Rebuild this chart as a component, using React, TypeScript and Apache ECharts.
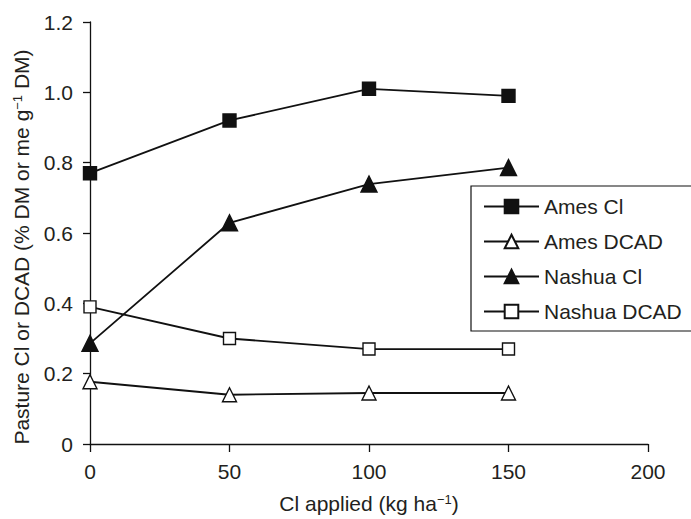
import React, { useEffect, useRef } from "react";
import * as echarts from "echarts";

const clApplied = [0, 50, 100, 150];
const amesCl = [0.77, 0.92, 1.01, 0.99];
const amesDcad = [0.177, 0.14, 0.145, 0.145];
const nashuaCl = [0.286, 0.629, 0.739, 0.786];
const nashuaDcad = [0.39, 0.30, 0.27, 0.27];
const seriesNames = ["Ames Cl", "Ames DCAD", "Nashua Cl", "Nashua DCAD"];
const yTicks = { min: 0, max: 1.2, interval: 0.2 };
const xTicks = { min: 0, max: 200, interval: 50 };
const xTitle = "Cl applied (kg ha{sup|−1})";
const yTitle = "Pasture Cl or DCAD (% DM or me g{sup|−1} DM)";

const FONT = "'Liberation Sans', Arial, Helvetica, sans-serif";
const TXT = "#231f20";

function pairs(ys: number[]) {
  return ys.map((y, i) => [clApplied[i], y]);
}

export default function App() {
  const ref = useRef<HTMLDivElement>(null);
  useEffect(() => {
    document.body.style.margin = "0";
    const chart = echarts.init(ref.current!, null, { renderer: "svg" });
    const mk = (
      name: string,
      ys: number[],
      symbol: string,
      size: number,
      filled: boolean
    ) => ({
      name,
      type: "line",
      data: pairs(ys),
      symbol,
      symbolSize: size,
      showAllSymbol: true,
      lineStyle: { color: "#111", width: 1.8 },
      itemStyle: {
        color: filled ? "#111" : "#fff",
        borderColor: "#111",
        borderWidth: 1.4,
        opacity: 1,
      },
      emphasis: { disabled: true },
      z: 3,
    });
    const supRich = { sup: { fontSize: 13, verticalAlign: "top", color: TXT, fontFamily: FONT } };
    chart.setOption({
      animation: false,
      textStyle: { fontFamily: FONT },
      grid: { left: 90, right: 43, top: 22, bottom: 70, containLabel: false },
      legend: {
        orient: "vertical",
        left: 471,
        top: 186,
        padding: [10, 10, 9, 12],
        borderColor: "#111",
        borderWidth: 1.2,
        backgroundColor: "#fff",
        itemWidth: 55,
        itemHeight: 17,
        itemGap: 14,
        data: seriesNames,
        textStyle: { fontSize: 21, color: TXT, fontFamily: FONT },
      },
      graphic: [
        {
          type: "text",
          x: 21,
          y: 247,
          rotation: Math.PI / 2,
          silent: true,
          style: {
            text: yTitle,
            fontSize: 21,
            fontFamily: FONT,
            fill: TXT,
            align: "center",
            verticalAlign: "middle",
            rich: supRich,
          },
        },
      ],
      xAxis: {
        type: "value",
        min: xTicks.min,
        max: xTicks.max,
        interval: xTicks.interval,
        name: xTitle,
        nameLocation: "middle",
        nameGap: 49,
        nameTextStyle: {
          fontSize: 21,
          color: TXT,
          fontFamily: FONT,
          rich: supRich,
        },
        axisLine: { show: true, onZero: false, lineStyle: { color: "#111", width: 1.3 } },
        axisTick: { show: true, inside: false, length: 8, lineStyle: { color: "#111", width: 1.3 } },
        axisLabel: { fontSize: 21, color: TXT, margin: 17, fontFamily: FONT },
        splitLine: { show: false },
      },
      yAxis: {
        type: "value",
        min: yTicks.min,
        max: yTicks.max,
        interval: yTicks.interval,
        axisLine: { show: true, onZero: false, lineStyle: { color: "#111", width: 1.3 } },
        axisTick: { show: true, inside: false, length: 7, lineStyle: { color: "#111", width: 1.3 } },
        axisLabel: {
          fontSize: 21,
          color: TXT,
          margin: 17,
          fontFamily: FONT,
          formatter: (v: number) => (v === 0 ? "0" : v.toFixed(1)),
        },
        splitLine: { show: false },
      },
      series: [
        mk(seriesNames[0], amesCl, "rect", 13, true),
        mk(seriesNames[1], amesDcad, "triangle", 14, false),
        mk(seriesNames[2], nashuaCl, "triangle", 16, true),
        mk(seriesNames[3], nashuaDcad, "rect", 12, false),
      ],
    });
    return () => chart.dispose();
  }, []);
  return <div ref={ref} style={{ width: 691, height: 519 }} />;
}
